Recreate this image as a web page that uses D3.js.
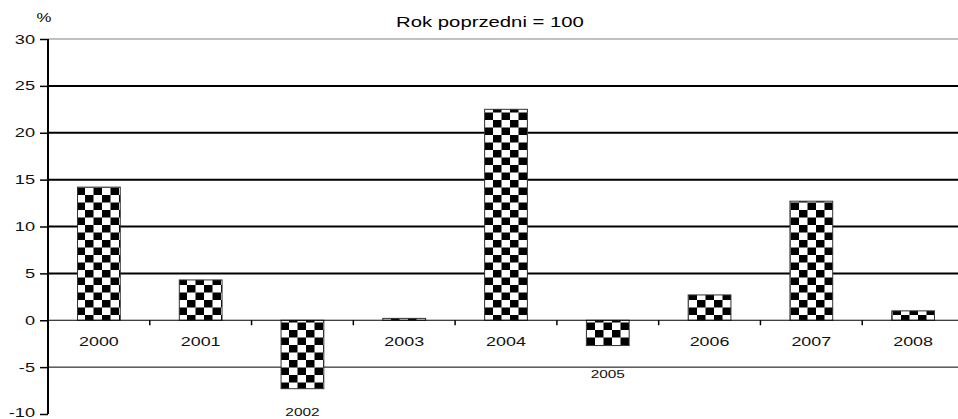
<!DOCTYPE html>
<html>
<head>
<meta charset="utf-8">
<script src="https://cdn.jsdelivr.net/npm/d3@7"></script>
<style>
  body { margin: 0; background: #fff; }
  svg { font-family: "Liberation Sans", Arial, sans-serif; display: block; }
</style>
</head>
<body>
<div id="chart"></div>
<script>
// data
let years = ["2000", "2001", "2002", "2003", "2004", "2005", "2006", "2007", "2008"]
let values = [14.2, 4.3, -7.3, 0.2, 22.5, -2.7, 2.7, 12.7, 1.0]
let yTicks = [-10, -5, 0, 5, 10, 15, 20, 25, 30]

let W = 958, H = 419
let STRETCH = 1.4  // the reference text is wider than it is tall
let x = d3.scaleBand().domain(years).range([48, 964]).paddingInner(0.58).paddingOuter(0.29)
let y = d3.scaleLinear().domain([-10, 30]).range([414, 39])

let svg = d3.select("#chart").append("svg")
  .attr("width", W).attr("height", H)

function wideText(sel, px, py) {
  return sel.attr("transform", function(d, i) {
    return "translate(" + px(d, i) + "," + py(d, i) + ") scale(" + STRETCH + ",1)"
  })
}

// checker pattern
let cw = 8.5, ch = 7.5
let pat = svg.append("defs").append("pattern")
  .attr("id", "checks")
  .attr("patternUnits", "userSpaceOnUse")
  .attr("width", cw * 2).attr("height", ch * 2)
pat.append("rect").attr("width", cw * 2).attr("height", ch * 2).attr("fill", "#fff")
pat.append("rect").attr("width", cw).attr("height", ch).attr("fill", "#000")
pat.append("rect").attr("x", cw).attr("y", ch).attr("width", cw).attr("height", ch).attr("fill", "#000")

// grid lines
svg.append("g").selectAll("line")
  .data(yTicks.filter(d => d !== 0 && d !== -10))
  .join("line")
  .attr("x1", 48).attr("x2", W)
  .attr("y1", d => y(d)).attr("y2", d => y(d))
  .attr("stroke", d => d === 30 ? "#c0c0c0" : "#000")
  .attr("stroke-width", d => d > 0 ? 2 : 1)

// bars
svg.append("g").selectAll("rect")
  .data(values)
  .join("rect")
  .attr("x", (d, i) => x(years[i]))
  .attr("width", x.bandwidth())
  .attr("y", d => y(Math.max(0, d)))
  .attr("height", d => Math.abs(y(d) - y(0)))
  .attr("fill", "url(#checks)")
  .attr("stroke", "#333")
  .attr("stroke-width", 1)

// zero axis with ticks between categories
let zero = svg.append("g")
zero.append("line")
  .attr("x1", 48).attr("x2", W)
  .attr("y1", y(0)).attr("y2", y(0))
  .attr("stroke", "#000").attr("stroke-width", 1.2)
zero.selectAll(".tk")
  .data(years.slice(1))
  .join("line")
  .attr("x1", d => x(d) - x.step() * x.paddingInner() / 2)
  .attr("x2", d => x(d) - x.step() * x.paddingInner() / 2)
  .attr("y1", y(0)).attr("y2", y(0) + 5)
  .attr("stroke", "#000").attr("stroke-width", 1.5)

// category labels (negative bars get theirs below the bar)
svg.append("g").selectAll("text")
  .data(values)
  .join("text")
  .call(wideText,
    (d, i) => x(years[i]) + x.bandwidth() / 2,
    d => d < 0 ? Math.min(y(d) + 32, 416) : y(0) + 26)
  .attr("text-anchor", "middle")
  .attr("font-size", d => d < 0 ? 11 : 12.8)
  .attr("fill", "#111")
  .text((d, i) => years[i])

// y axis
let yAxis = d3.axisLeft(y).tickValues(yTicks).tickSize(8).tickFormat("")
let ya = svg.append("g")
  .attr("transform", "translate(48,0)")
  .call(yAxis)
ya.select(".domain").attr("stroke-width", 2).attr("d", "M0," + y(30) + "V" + y(-10))
ya.selectAll(".tick line").attr("stroke-width", 1.5)
svg.append("g").selectAll("text")
  .data(yTicks)
  .join("text")
  .call(wideText, () => 35, d => Math.min(y(d) + 4.6, 417))
  .attr("text-anchor", "end")
  .attr("font-size", 13)
  .attr("fill", "#111")
  .text(d => d)

// unit and title
svg.append("text")
  .call(wideText, () => 44, () => 22)
  .attr("text-anchor", "middle")
  .attr("font-size", 12)
  .text("%")
svg.append("text")
  .call(wideText, () => 490, () => 27)
  .attr("text-anchor", "middle")
  .attr("font-size", 14.5)
  .text("Rok poprzedni = 100")
</script>
</body>
</html>
